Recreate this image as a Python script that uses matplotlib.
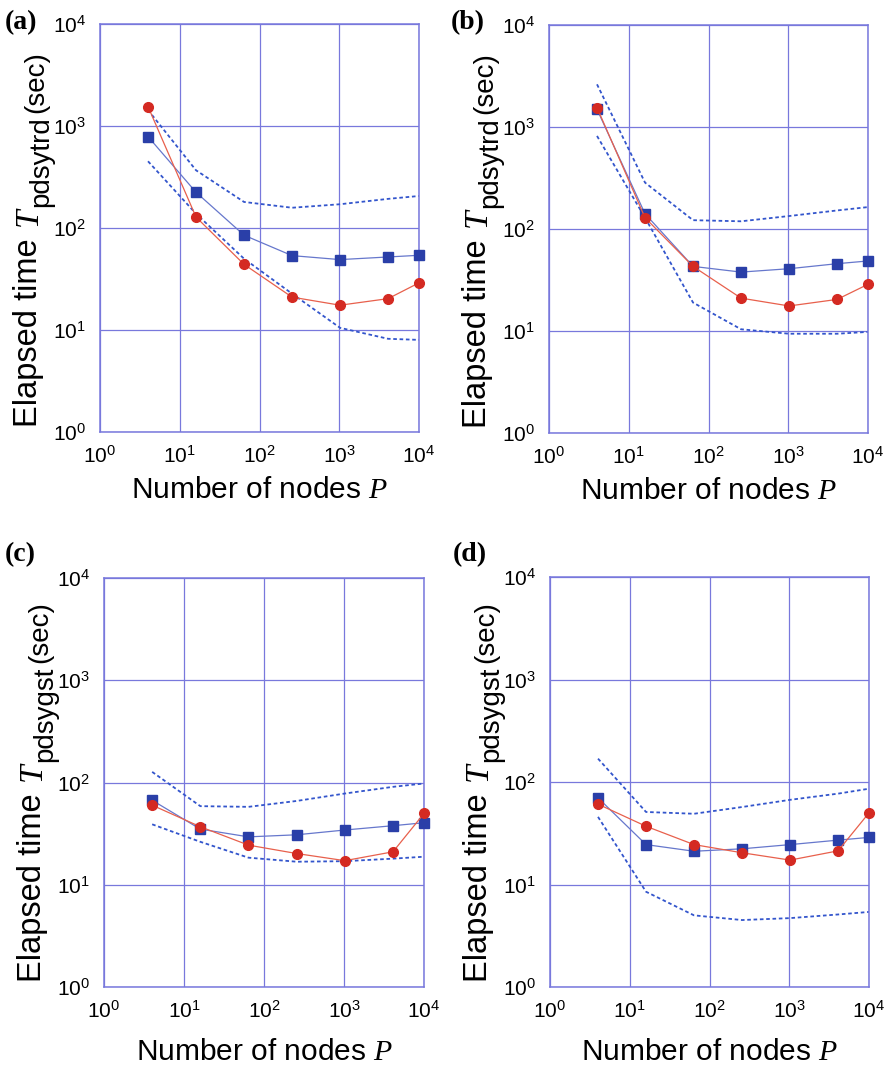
import numpy as np
import matplotlib
matplotlib.use("Agg")
import matplotlib.pyplot as plt

plt.rcParams["font.family"] = ["Liberation Sans", "DejaVu Sans"]
plt.rcParams["mathtext.fontset"] = "custom"
plt.rcParams["mathtext.rm"] = "Liberation Sans"
plt.rcParams["mathtext.it"] = "Liberation Serif:italic"

# Datos
nodes = [4, 16, 64, 256, 1024, 4096, 10000]

red_a = [1550, 128, 44, 21, 17.5, 20.3, 29]
blue_a = [787, 224, 85, 53.6, 49, 52, 54]
up_a = [1435, 368, 180, 158, 171, 193, 206]
low_a = [451, 138, 50, 22.7, 10.5, 8.2, 8.0]

red_b = [1550, 129, 43, 21, 17.6, 20.4, 28.7]
blue_b = [1490, 141, 43, 37.8, 40.8, 45.7, 48.6]
up_b = [2620, 285, 122, 119, 134, 152, 164]
low_b = [817, 129, 19, 10.4, 9.4, 9.4, 9.8]

red_c = [60, 36.9, 24.4, 20.2, 17.2, 21, 49.8]
blue_c = [67, 35, 29.4, 30.8, 34.3, 37.8, 40.4]
up_c = [127, 58.7, 57.8, 66, 78, 90.7, 97.8]
low_c = [39, 26.3, 18.4, 16.8, 17, 18, 18.8]

red_d = [60.8, 37, 24.5, 20.4, 17.3, 21.3, 50]
blue_d = [70, 24.5, 21.1, 22.3, 24.5, 27.1, 28.8]
up_d = [169, 51, 49, 57, 67, 77, 86]
low_d = [45.7, 8.5, 5.0, 4.5, 4.7, 5.1, 5.4]

panels = [
    ("(a)", "pdsytrd", red_a, blue_a, up_a, low_a),
    ("(b)", "pdsytrd", red_b, blue_b, up_b, low_b),
    ("(c)", "pdsygst", red_c, blue_c, up_c, low_c),
    ("(d)", "pdsygst", red_d, blue_d, up_d, low_d),
]

W, H = 893, 1077
# posiciones de los ejes en pixeles: left, top, right, bottom
boxes = [(100, 24, 419, 432), (549, 25, 868, 433),
         (104, 578, 424, 987), (550, 577, 869, 987)]
label_pos = [(5, 10), (451, 10), (5, 542), (453, 542)]
xlabel_pad = [7, 7, 12, 12]

frame = "#7878dc"
fig = plt.figure(figsize=(W / 100, H / 100), dpi=100)
renderer = fig.canvas.get_renderer()


def vtext(x, y, s, **kw):
    # texto vertical, x,y en pixeles (y desde arriba); devuelve largo en px
    t = fig.text(x / W, 1 - y / H, s, rotation=90, rotation_mode="anchor",
                 ha="left", va="baseline", **kw)
    return t.get_window_extent(renderer).height


for (tag, routine, red, blue, up, low), (l, t, r, b), (lx, ly), xp in zip(
        panels, boxes, label_pos, xlabel_pad):
    ax = fig.add_axes([l / W, 1 - b / H, (r - l) / W, (b - t) / H])
    ax.set_xscale("log")
    ax.set_yscale("log")
    ax.set_xlim(1, 1e4)
    ax.set_ylim(1, 1e4)
    ax.set_xticks([1, 10, 100, 1000, 10000])
    ax.set_yticks([1, 10, 100, 1000, 10000])
    ax.minorticks_off()
    ax.grid(True, color=frame, lw=0.9)
    for s in ax.spines.values():
        s.set_color(frame)
        s.set_linewidth(1.1)
    ax.tick_params(length=0, labelsize=15)
    ax.tick_params(axis="x", pad=9)
    ax.tick_params(axis="y", pad=10)

    ax.plot(nodes, up, color="#3355cc", lw=1.3, ls=(0, (2, 1.5)), clip_on=False)
    ax.plot(nodes, low, color="#3355cc", lw=1.3, ls=(0, (2, 1.5)), clip_on=False)
    ax.plot(nodes, blue, color="#6677cc", lw=0.9, marker="s", ms=7,
            mfc="#2a3fa8", mec="#2a3fa8", clip_on=False, zorder=3)
    ax.plot(nodes, red, color="#e8604c", lw=0.9, marker="o", ms=7,
            mfc="#d42a22", mec="#d42a22", clip_on=False, zorder=4)

    ax.set_xlabel(r"Number of nodes $P$", fontsize=21.5, labelpad=xp)

    # etiqueta y compuesta: Elapsed time  T_pdsytrd (sec)
    y0 = b - 5
    y0 -= vtext(l - 63, y0, "Elapsed time", fontsize=23.5)
    y0 -= 12
    y0 -= vtext(l - 63, y0, "T", fontsize=24, family="Liberation Serif", style="italic")
    y0 -= 1
    y0 -= vtext(l - 52, y0, routine, fontsize=20)
    y0 -= 3
    vtext(l - 57, y0, "(sec)", fontsize=20)

    fig.text(lx / W, 1 - ly / H, tag, fontsize=20, fontweight="bold",
             family="Liberation Serif", va="top", ha="left")

fig.savefig("out.png", dpi=100)
